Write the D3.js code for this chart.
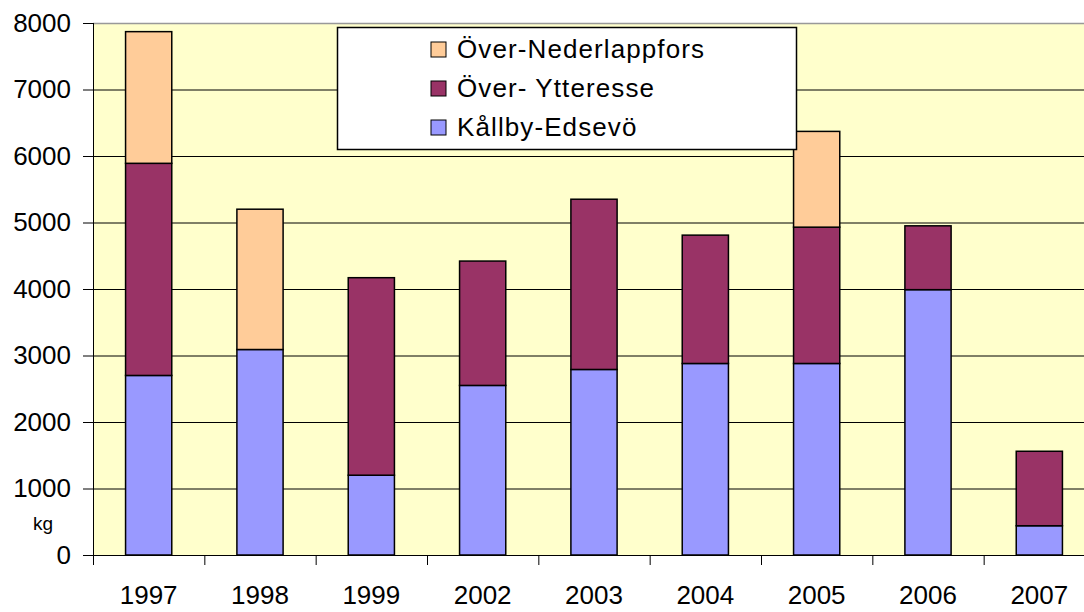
<!DOCTYPE html>
<html>
<head>
<meta charset="utf-8">
<script src="https://cdn.jsdelivr.net/npm/d3@7"></script>
<style>
  html, body { margin: 0; padding: 0; background: #fff; }
  svg { display: block; font-family: "Liberation Sans", Arial, sans-serif; }
</style>
</head>
<body>
<div id="chart"></div>
<script>
  const W = 1084, H = 612;

  // data
  const years = ["1997", "1998", "1999", "2002", "2003", "2004", "2005", "2006", "2007"];
  const kallbyEdsevo = [2700, 3090, 1200, 2550, 2790, 2880, 2880, 3990, 440];
  const overYtteresse = [3190, 0, 2970, 1870, 2560, 1930, 2050, 960, 1120];
  const overNederlappfors = [1980, 2110, 0, 0, 0, 0, 1440, 0, 0];
  const seriesNames = ["Kållby-Edsevö", "Över- Ytteresse", "Över-Nederlappfors"];
  const seriesColors = ["#9999FF", "#993366", "#FFCC99"];
  const yTicks = [0, 1000, 2000, 3000, 4000, 5000, 6000, 7000, 8000];

  const m = { left: 93, right: 1095, top: 23, bottom: 555 };

  const rows = years.map((y, i) => ({
    year: y,
    s0: kallbyEdsevo[i],
    s1: overYtteresse[i],
    s2: overNederlappfors[i]
  }));

  const stack = d3.stack().keys(["s0", "s1", "s2"]);
  const stacked = stack(rows);

  const x = d3.scaleBand().domain(years).range([m.left, m.right]).paddingInner(0.585).paddingOuter(0.2925);
  const y = d3.scaleLinear().domain([0, 8000]).range([m.bottom, m.top]);

  const svg = d3.select("#chart").append("svg")
    .attr("width", W).attr("height", H);

  // plot background
  svg.append("rect")
    .attr("x", m.left).attr("y", m.top)
    .attr("width", m.right - m.left).attr("height", m.bottom - m.top)
    .attr("fill", "#FFFFCC");

  // gridlines
  svg.append("g")
    .selectAll("line")
    .data(yTicks.filter(d => d > 0 && d < 8000))
    .join("line")
    .attr("x1", m.left).attr("x2", m.right)
    .attr("y1", d => y(d) + 0.5).attr("y2", d => y(d) + 0.5)
    .attr("stroke", "#000").attr("stroke-width", 1);

  // top border
  svg.append("line")
    .attr("x1", m.left).attr("x2", m.right)
    .attr("y1", m.top + 0.5).attr("y2", m.top + 0.5)
    .attr("stroke", "#999").attr("stroke-width", 1.5);

  // bars
  svg.append("g")
    .selectAll("g")
    .data(stacked)
    .join("g")
    .attr("fill", (d, i) => seriesColors[i])
    .selectAll("rect")
    .data(d => d.filter(s => s[1] - s[0] > 0))
    .join("rect")
    .attr("x", d => x(d.data.year))
    .attr("y", d => y(d[1]))
    .attr("width", x.bandwidth())
    .attr("height", d => y(d[0]) - y(d[1]))
    .attr("stroke", "#000")
    .attr("stroke-width", 1.5);

  // y axis
  const yAxis = d3.axisLeft(y).tickValues(yTicks).tickSize(10).tickPadding(12).tickFormat(d3.format("d"));
  const gy = svg.append("g").attr("transform", `translate(${m.left},0)`).call(yAxis);
  gy.select(".domain").attr("stroke", "#000").attr("d", `M0.5,${m.top}V${m.bottom}`);
  gy.selectAll(".tick line").attr("stroke", "#000");
  gy.selectAll(".tick text").attr("font-size", 26).attr("fill", "#000")
    .attr("font-family", "Liberation Sans, Arial, sans-serif");

  // x axis
  const step = x.step();
  const xAxis = d3.axisBottom(x).tickSize(0).tickPadding(31);
  const gx = svg.append("g").attr("transform", `translate(0,${m.bottom})`).call(xAxis);
  gx.select(".domain").attr("stroke", "#000").attr("d", `M${m.left},0.5H${m.right}`);
  gx.selectAll(".tick text").attr("font-size", 26).attr("fill", "#000")
    .attr("font-family", "Liberation Sans, Arial, sans-serif");

  // category boundary ticks
  const bounds = d3.range(years.length + 1).map(i => m.left + i * step);
  svg.append("g")
    .selectAll("line")
    .data(bounds)
    .join("line")
    .attr("x1", d => d + 0.5).attr("x2", d => d + 0.5)
    .attr("y1", m.bottom).attr("y2", m.bottom + 10)
    .attr("stroke", "#000");

  // kg label
  svg.append("text")
    .attr("x", 43).attr("y", 530)
    .attr("text-anchor", "middle")
    .attr("font-size", 19)
    .text("kg");

  // legend
  const lg = svg.append("g").attr("transform", "translate(337,27)");
  lg.append("rect")
    .attr("x", 0.5).attr("y", 0.5).attr("width", 459).attr("height", 122)
    .attr("fill", "#fff").attr("stroke", "#000").attr("stroke-width", 1.5);

  const legendOrder = [2, 1, 0];
  const items = lg.selectAll("g.item")
    .data(legendOrder)
    .join("g")
    .attr("class", "item")
    .attr("transform", (d, i) => `translate(94,${22 + i * 39})`);
  items.append("rect")
    .attr("x", 0).attr("y", -7).attr("width", 15).attr("height", 15)
    .attr("fill", d => seriesColors[d]).attr("stroke", "#000").attr("stroke-width", 1);
  items.append("text")
    .attr("x", 26).attr("y", 9)
    .attr("font-size", 26)
    .attr("letter-spacing", 1.1)
    .text(d => seriesNames[d]);
</script>
</body>
</html>
